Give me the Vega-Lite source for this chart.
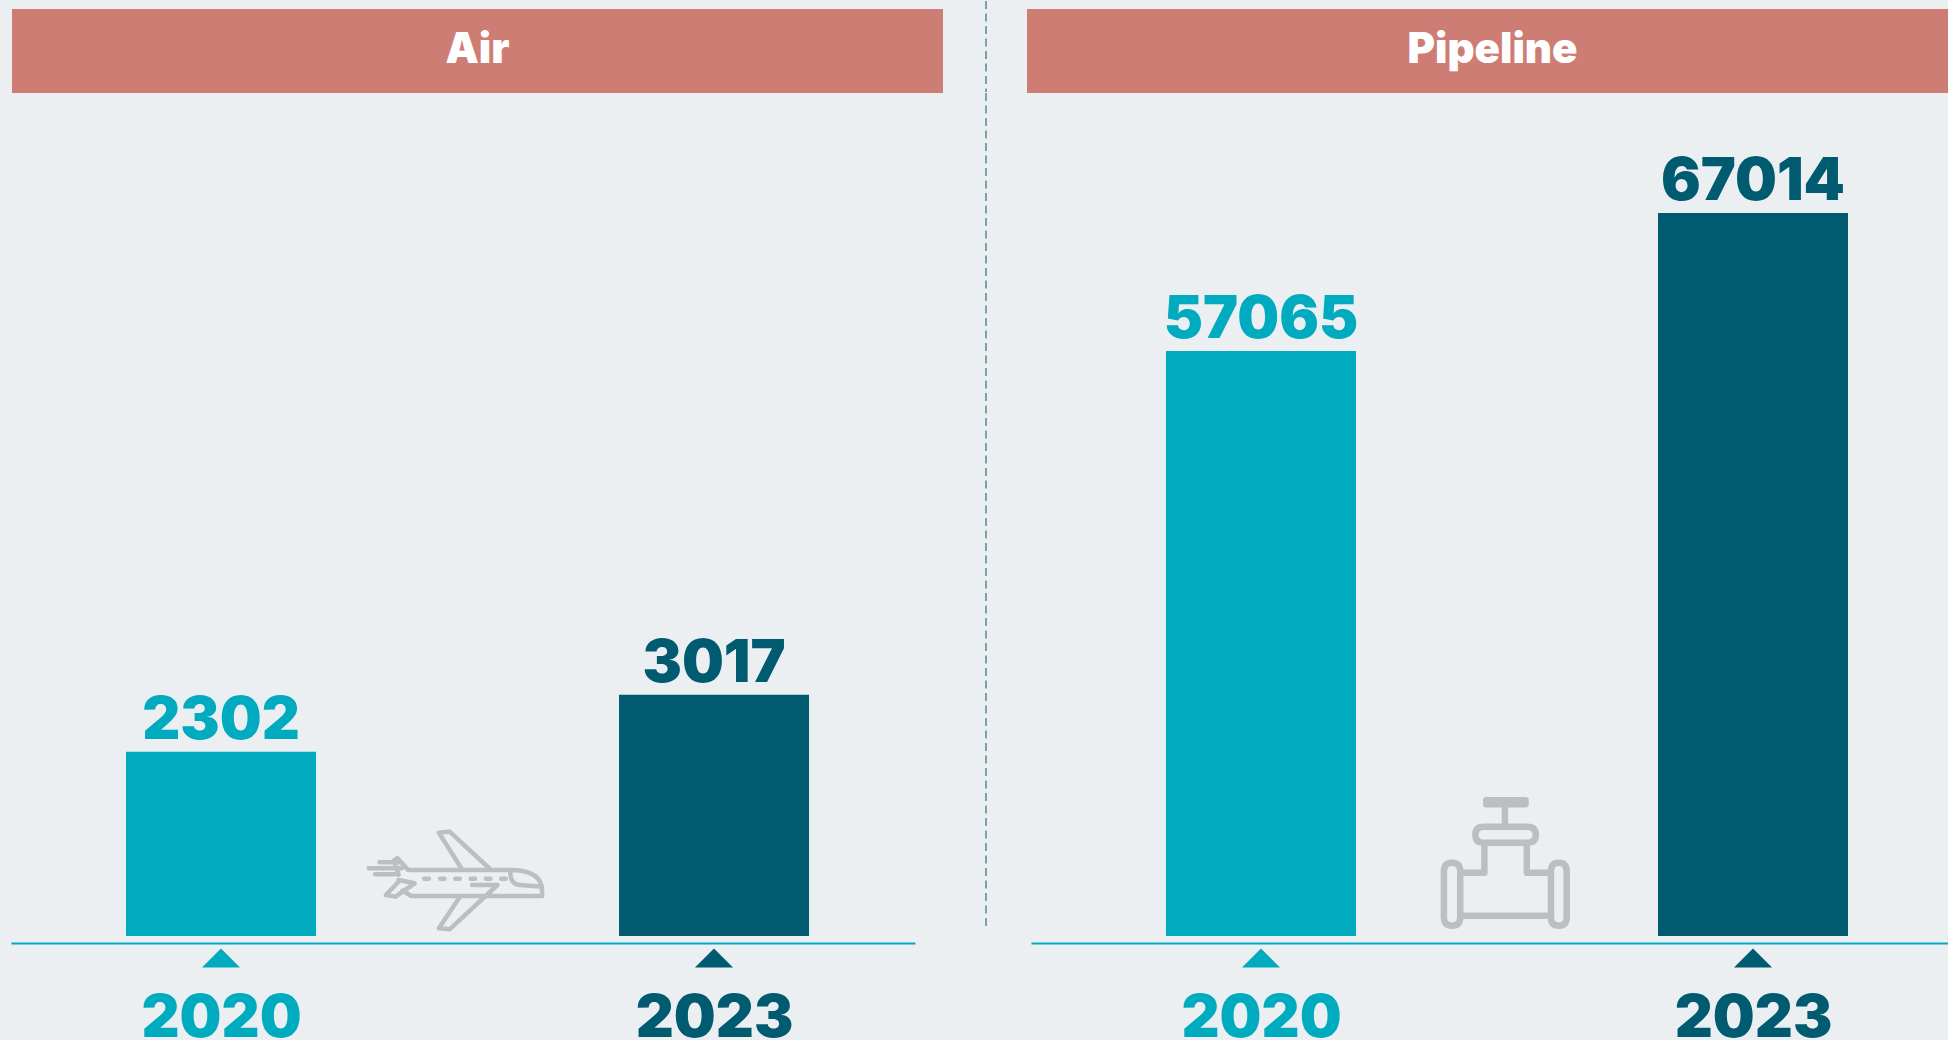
{"$schema":"https://vega.github.io/schema/vega-lite/v6.json","background":"#EBEFF2","padding":{"left":11,"top":0,"right":0,"bottom":20},"spacing":-1,"config":{"view":{"stroke":null},"concat":{"spacing":0}},"vconcat":[{"spacing":0,"bounds":"flush","hconcat":[{"width":932,"height":93,"data":{"values":[{"mode":"Air"}]},"encoding":{"x":{"field":"mode","type":"nominal","axis":null,"scale":{"paddingInner":0,"paddingOuter":0.00054,"align":1}},"y":{"field":"mode","type":"nominal","axis":null,"scale":{"paddingInner":0,"paddingOuter":0.05357,"align":1}}},"layer":[{"mark":{"type":"rect","fill":"#CE7D74"}},{"mark":{"type":"text","font":"Inter","fontWeight":900,"fontSize":42,"fill":"#FFFFFF","baseline":"middle","align":"center","dy":-1},"encoding":{"text":{"field":"mode"}}}]},{"width":84,"height":93,"data":{"values":[{"divider":"Air | Pipeline"}]},"mark":{"type":"rule","stroke":"#5A909D","strokeWidth":1.6,"strokeDash":[8,4.5]},"encoding":{"x":{"datum":0.512,"scale":{"domain":[0,1],"nice":false},"axis":null},"y":{"datum":0.99,"scale":{"domain":[0,1],"nice":false},"axis":null},"y2":{"datum":0.012}}},{"width":921,"height":93,"data":{"values":[{"mode":"Pipeline"}]},"encoding":{"x":{"field":"mode","type":"nominal","axis":null,"scale":{"paddingInner":0,"paddingOuter":0}},"y":{"field":"mode","type":"nominal","axis":null,"scale":{"paddingInner":0,"paddingOuter":0.05357,"align":1}}},"layer":[{"mark":{"type":"rect","fill":"#CE7D74"}},{"mark":{"type":"text","font":"Inter","fontWeight":900,"fontSize":42,"fill":"#FFFFFF","baseline":"middle","align":"center","dy":-1,"dx":5},"encoding":{"text":{"field":"mode"}}}]}]},{"spacing":0,"bounds":"flush","hconcat":[{"width":904,"height":850,"data":{"values":[{"mode":"Air","year":2020,"value":2302},{"mode":"Air","year":2023,"value":3017}]},"encoding":{"x":{"field":"year","type":"quantitative","scale":{"domain":[2018.722,2024.223],"nice":false,"zero":false,"padding":0},"axis":{"values":[2020,2023],"format":"d","title":null,"ticks":false,"grid":false,"domainColor":"#00ABC0","domainWidth":2,"labelFont":"Inter","labelFontWeight":900,"labelFontSize":59,"labelPadding":46,"labelFlush":false,"labelOverlap":false,"labelBound":false,"labelColor":{"condition":{"test":"datum.value==2020","value":"#00ABC0"},"value":"#005B70"}}},"y":{"field":"value","type":"quantitative","scale":{"domain":[-87.5,10537.5],"nice":false,"zero":false},"axis":null},"color":{"field":"year","type":"nominal","scale":{"domain":[2020,2023],"range":["#00ABC0","#005B70"]},"legend":null}},"layer":[{"mark":{"type":"bar","size":190},"encoding":{"y2":{"datum":0}}},{"mark":{"type":"text","font":"Inter","fontWeight":900,"fontSize":59,"baseline":"alphabetic","align":"center","dy":-13},"encoding":{"text":{"field":"value","type":"quantitative","format":"d"}}},{"mark":{"type":"point","shape":"M0,-0.5 L1,0.5 L-1,0.5 Z","size":1444,"filled":true,"opacity":1},"encoding":{"y":{"datum":-87.5},"yOffset":{"value":15}}},{"transform":[{"filter":"datum.year==2020"}],"mark":{"type":"point","shape":"M-0.66,-0.25 L-0.535,-0.114 L0.631,-0.114 Q0.995,-0.114 0.995,0.13 L0.995,0.183 L-0.5,0.183 L-0.6,0.12 M-0.66,-0.25 L-0.7,-0.22 L-0.645,-0.06 M-0.645,0 L-0.462,0.038 L-0.681,0.19 L-0.79,0.171 L-0.645,0.02 M0.084,-0.114 L-0.185,-0.541 L-0.062,-0.553 L0.412,-0.114 M0.194,0.057 L0.485,0.057 L-0.062,0.564 L-0.185,0.552 L0.062,0.183 M0.631,-0.095 Q0.63,0.057 0.75,0.057 L0.995,0.076 M-0.353,-0.015 L-0.3,-0.015 M-0.17,-0.015 L-0.12,-0.015 M0.004,-0.015 L0.054,-0.015 M0.179,-0.015 L0.229,-0.015 M0.354,-0.015 L0.404,-0.015 M0.529,-0.015 L0.579,-0.015 M-0.987,-0.133 L-0.608,-0.133 M-0.863,-0.202 L-0.645,-0.202 M-0.914,-0.065 L-0.645,-0.065","size":30625,"filled":false,"strokeWidth":4.5,"strokeCap":"round","strokeJoin":"round","opacity":1},"encoding":{"x":{"datum":2021.424},"y":{"datum":700},"color":{"value":"#BCBEC2"}}}]},{"width":116,"height":837,"data":{"values":[{"divider":"Air | Pipeline"}]},"mark":{"type":"rule","stroke":"#5A909D","strokeWidth":1.6,"strokeDash":[8,4.5]},"encoding":{"x":{"datum":0.612,"scale":{"domain":[0,1],"nice":false},"axis":null}}},{"width":917,"height":850,"data":{"values":[{"mode":"Pipeline","year":2020,"value":57065},{"mode":"Pipeline","year":2023,"value":67014}]},"encoding":{"x":{"field":"year","type":"quantitative","scale":{"domain":[2018.5976,2024.189],"nice":false,"zero":false,"padding":0},"axis":{"values":[2020,2023],"format":"d","title":null,"ticks":false,"grid":false,"domainColor":"#00ABC0","domainWidth":2,"labelFont":"Inter","labelFontWeight":900,"labelFontSize":59,"labelPadding":46,"labelFlush":false,"labelOverlap":false,"labelBound":false,"labelColor":{"condition":{"test":"datum.value==2020","value":"#00ABC0"},"value":"#005B70"}}},"y":{"field":"value","type":"quantitative","scale":{"domain":[14382,75666],"nice":false,"zero":false},"axis":null},"color":{"field":"year","type":"nominal","scale":{"domain":[2020,2023],"range":["#00ABC0","#005B70"]},"legend":null}},"layer":[{"mark":{"type":"bar","size":190},"encoding":{"y2":{"datum":14887}}},{"mark":{"type":"text","font":"Inter","fontWeight":900,"fontSize":59,"baseline":"alphabetic","align":"center","dy":-13},"encoding":{"text":{"field":"value","type":"quantitative","format":"d"}}},{"mark":{"type":"point","shape":"M0,-0.5 L1,0.5 L-1,0.5 Z","size":1444,"filled":true,"opacity":1},"encoding":{"y":{"datum":14382},"yOffset":{"value":15}}},{"transform":[{"filter":"datum.year==2020"}],"mark":{"type":"point","shape":"M-0.292,-0.965 L0.308,-0.965 L0.308,-0.905 L-0.292,-0.905 Z M-0.006,-0.868 L-0.006,-0.623 M-0.33,-0.562 L0.33,-0.562 Q0.465,-0.562 0.465,-0.44 Q0.465,-0.318 0.33,-0.318 L-0.33,-0.318 Q-0.458,-0.318 -0.458,-0.44 Q-0.458,-0.562 -0.33,-0.562 Z M-0.32,-0.267 L-0.32,0.14 L-0.689,0.14 M0.327,-0.267 L0.327,0.14 L0.696,0.14 M-0.689,0.797 L0.696,0.797 M-0.938,0.12 Q-0.938,-0.013 -0.81,-0.013 Q-0.689,-0.013 -0.689,0.12 L-0.689,0.82 Q-0.689,0.949 -0.81,0.949 Q-0.938,0.949 -0.938,0.82 Z M0.696,0.12 Q0.696,-0.013 0.816,-0.013 Q0.936,-0.013 0.936,0.12 L0.936,0.82 Q0.936,0.949 0.816,0.949 Q0.696,0.949 0.696,0.82 Z","size":17161,"filled":false,"strokeWidth":6.5,"strokeCap":"round","strokeJoin":"round","opacity":1},"encoding":{"x":{"datum":2021.49},"y":{"datum":20114},"color":{"value":"#BCBEC2"}}}]}]}]}
